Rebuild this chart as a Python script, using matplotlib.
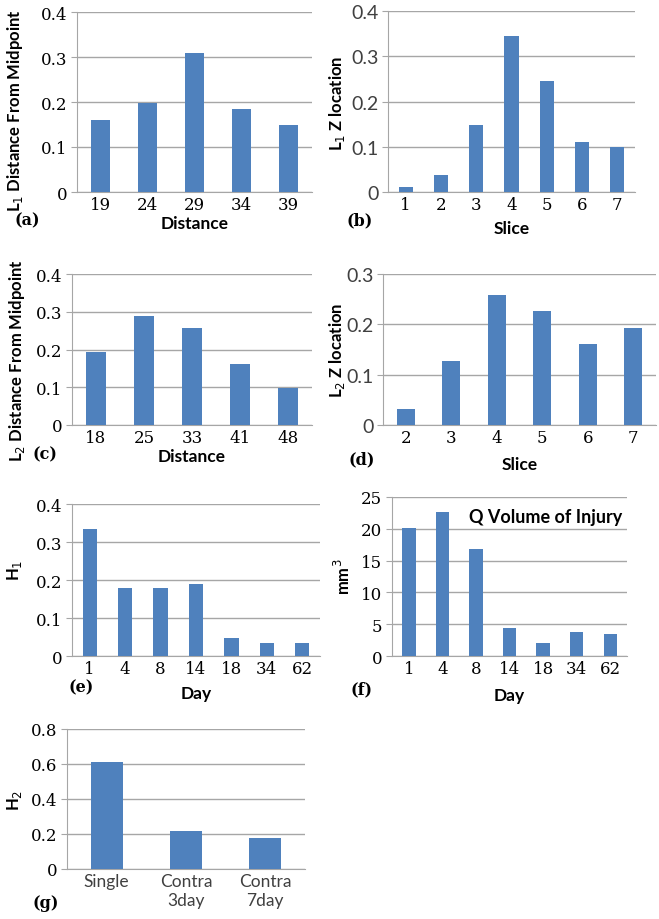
import numpy as np
import matplotlib
matplotlib.use("Agg")
import matplotlib.pyplot as plt

# data
dist_a = ["19", "24", "29", "34", "39"]
l1_dist = [0.160, 0.197, 0.308, 0.185, 0.148]

slice_b = ["1", "2", "3", "4", "5", "6", "7"]
l1_z = [0.012, 0.037, 0.147, 0.345, 0.246, 0.110, 0.099]

dist_c = ["18", "25", "33", "41", "48"]
l2_dist = [0.193, 0.290, 0.257, 0.161, 0.097]

slice_d = ["2", "3", "4", "5", "6", "7"]
l2_z = [0.032, 0.128, 0.258, 0.226, 0.161, 0.193]

day_e = ["1", "4", "8", "14", "18", "34", "62"]
h1 = [0.333, 0.178, 0.178, 0.190, 0.047, 0.035, 0.035]

day_f = ["1", "4", "8", "14", "18", "34", "62"]
q_vol = [20.2, 22.7, 16.9, 4.4, 2.1, 3.8, 3.5]

group_g = ["Single", "Contra\n3day", "Contra\n7day"]
h2 = [0.610, 0.215, 0.178]

BAR = "#4F81BD"
GRID = "#A6A6A6"
SERIF = "DejaVu Serif"
SANS = "Lato"

W, H = 659, 920
fig = plt.figure(figsize=(W / 100, H / 100), dpi=100)


def px(x, y):
    return x / W, 1 - y / H


def panel(box, cats, vals, ymax, ystep, ylabel, xlabel, tag, tag_xy, ylab_xy,
          xlab_y, ytick_font=SERIF, xtick_font=SERIF, yfmt="{:g}"):
    x0, y0, x1, y1 = box
    ax = fig.add_axes([x0 / W, 1 - y1 / H, (x1 - x0) / W, (y1 - y0) / H])
    n = len(cats)
    pos = np.arange(n) + 0.5
    ax.bar(pos, vals, width=0.4, color=BAR, zorder=3)
    ax.set_xlim(0, n)
    ax.set_ylim(0, ymax)
    ticks = np.arange(0, ymax + ystep / 2, ystep)
    if ytick_font == SANS:
        yc, ys = "#404040", 14
    else:
        yc, ys = "black", 12
    ax.set_yticks(ticks, ["0" if t == 0 else yfmt.format(t) for t in ticks],
                  family=ytick_font, size=ys, color=yc)
    ax.set_xticks(pos, cats, family=xtick_font,
                  size=12 if xtick_font == SERIF else 12.5, linespacing=1.25,
                  color="black" if xtick_font == SERIF else "#404040")
    ax.grid(axis="y", color=GRID, linewidth=1.0, zorder=0)
    for s in ["top", "right"]:
        ax.spines[s].set_visible(False)
    ax.spines["left"].set_color(GRID)
    ax.spines["bottom"].set_color(GRID)
    ax.tick_params(axis="y", length=4, color=GRID, pad=3)
    ax.tick_params(axis="x", length=0, pad=3)
    # axis titles
    cx = (x0 + x1) / 2
    fig.text(*px(cx, xlab_y), xlabel, ha="center", va="center",
             fontfamily=SANS, fontweight="bold", fontsize=12.5)
    fig.text(*px(*ylab_xy), ylabel, ha="center", va="center",
             rotation=90, fontfamily=SANS, fontweight="bold", fontsize=12)
    fig.text(*px(*tag_xy), tag, ha="left", va="center", fontfamily=SERIF,
             fontweight="bold", fontsize=11.5)
    return ax


panel((77, 13, 312, 193), dist_a, l1_dist, 0.4, 0.1,
      "L$_1$ Distance From Midpoint", "Distance", "(a)", (14, 221),
      (15, 110), 224)
panel((388, 12, 635, 193), slice_b, l1_z, 0.4, 0.1,
      "L$_1$ Z location", "Slice", "(b)", (346, 221), (337, 103), 229,
      ytick_font=SANS)
panel((72, 275, 312, 426), dist_c, l2_dist, 0.4, 0.1,
      "L$_2$ Distance From Midpoint", "Distance", "(c)", (33, 455),
      (17, 360), 457)
panel((383, 275, 656, 426), slice_d, l2_z, 0.3, 0.1,
      "L$_2$ Z location", "Slice", "(d)", (349, 460), (337, 350), 465,
      ytick_font=SANS)
panel((72, 505, 320, 657), day_e, h1, 0.4, 0.1,
      "H$_1$", "Day", "(e)", (68, 688), (15, 570), 694)
ax_f = panel((392, 498, 627, 657), day_f, q_vol, 25, 5,
             "mm$^3$", "Day", "(f)", (351, 690), (343, 577), 696)
ax_f.text(0.98, 0.88, "Q Volume of Injury", transform=ax_f.transAxes,
          ha="right", va="center", fontfamily=SANS, fontweight="bold",
          fontsize=13)
panel((67, 730, 305, 870), group_g, h2, 0.8, 0.2,
      "H$_2$", "", "(g)", (33, 904), (14, 800), 0, xtick_font=SANS,
      yfmt="{:.1f}")

fig.savefig("out.png", dpi=100, facecolor="white")
